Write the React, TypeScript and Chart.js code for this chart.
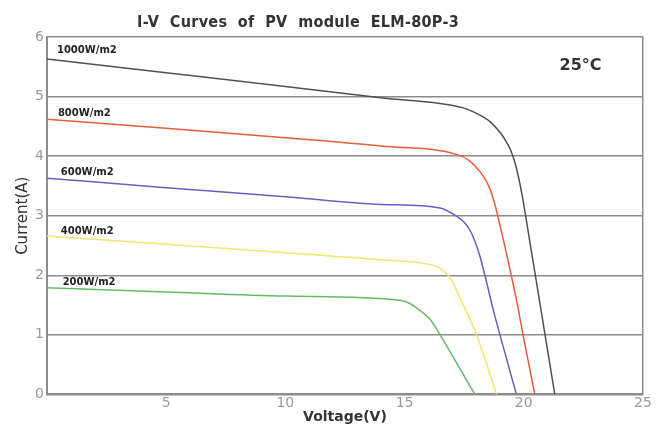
import React, { useEffect, useRef } from 'react';
import { Chart, registerables } from 'chart.js';

Chart.register(...registerables);

// Irradiance levels (series names)
const seriesNames = ['1000W/m2', '800W/m2', '600W/m2', '400W/m2', '200W/m2'];
const seriesColors = ['#505050', '#ec5a3c', '#6c5cc4', '#f2e56a', '#66ba66'];

// I-V curves: voltage (V) and current (A)
const v1000 = [0, 5, 10, 14, 17.46, 18.1, 18.58, 19.0, 19.27, 19.45, 19.6, 19.75, 19.95, 20.3, 21.3];
const i1000 = [5.63, 5.4, 5.17, 4.98, 4.81, 4.7, 4.58, 4.4, 4.24, 4.1, 3.93, 3.7, 3.3, 2.45, 0];

const v800 = [0, 5, 10, 14, 17.18, 17.7, 18.16, 18.4, 18.6, 18.78, 18.95, 19.69, 19.97, 20.46];
const i800 = [4.62, 4.47, 4.31, 4.17, 4.03, 3.93, 3.74, 3.6, 3.43, 3.2, 2.93, 1.59, 1.0, 0];

const v600 = [0, 5, 10, 14, 16.49, 17.18, 17.5, 17.74, 17.95, 18.16, 18.4, 18.72, 19.0, 19.69];
const i600 = [3.63, 3.47, 3.32, 3.19, 3.13, 2.99, 2.89, 2.76, 2.57, 2.32, 1.95, 1.42, 1.0, 0];

const v400 = [0, 5, 10, 14, 16.07, 16.45, 16.75, 17.0, 17.3, 18.02, 18.86];
const i400 = [2.66, 2.52, 2.38, 2.26, 2.18, 2.13, 2.03, 1.9, 1.64, 1.0, 0];

const v200 = [0, 5, 10, 14.81, 15.2, 15.51, 15.8, 16.07, 16.49, 17.18, 17.95];
const i200 = [1.79, 1.72, 1.65, 1.58, 1.53, 1.45, 1.36, 1.26, 1.0, 0.53, 0];

const voltages = [v1000, v800, v600, v400, v200];
const currents = [i1000, i800, i600, i400, i200];

// Label anchors (data coordinates) for the irradiance labels
const labelV = [0.42, 0.46, 0.58, 0.58, 0.66];
const labelI = [5.78, 4.72, 3.72, 2.73, 1.88];

const xTicks = [5, 10, 15, 20, 25];
const yTicks = [0, 1, 2, 3, 4, 5, 6];

const titleText = 'I-V  Curves  of  PV  module  ELM-80P-3';
const tempText = '25°C';
const tempV = 21.5;
const tempI = 5.51;

const gridGray = '#8c8c8c';

export default function App() {
  const ref = useRef<HTMLCanvasElement | null>(null);

  useEffect(() => {
    const canvas = ref.current;
    if (!canvas) return;
    document.body.style.margin = '0';

    const textPlugin = {
      id: 'textPlugin',
      afterDatasetsDraw(chart: any) {
        const { ctx, scales } = chart;
        const xs = scales.x;
        const ys = scales.y;
        ctx.save();
        // main title
        ctx.fillStyle = '#333333';
        ctx.font = 'bold 16px "DejaVu Sans Condensed", "DejaVu Sans"';
        ctx.textAlign = 'left';
        ctx.textBaseline = 'middle';
        const w = ctx.measureText(titleText).width;
        const target = 322;
        if ('letterSpacing' in ctx) {
          const extra = (target - w) / titleText.length;
          (ctx as any).letterSpacing = `${extra.toFixed(2)}px`;
        }
        ctx.fillText(titleText, 137, 23);
        if ('letterSpacing' in ctx) (ctx as any).letterSpacing = '0px';
        // irradiance labels
        ctx.font = 'bold 10px "DejaVu Sans"';
        ctx.fillStyle = '#222222';
        seriesNames.forEach((name, i) => {
          ctx.fillText(name, xs.getPixelForValue(labelV[i]), ys.getPixelForValue(labelI[i]));
        });
        // temperature
        ctx.font = 'bold 16px "DejaVu Sans"';
        ctx.fillStyle = '#333333';
        ctx.fillText(tempText, xs.getPixelForValue(tempV), ys.getPixelForValue(tempI));
        ctx.restore();
      },
    };

    const chart = new Chart(canvas, {
      type: 'scatter',
      data: {
        datasets: seriesNames.map((name, i) => ({
          label: name,
          data: voltages[i].map((v, k) => ({ x: v, y: currents[i][k] })),
          showLine: true,
          borderColor: seriesColors[i],
          backgroundColor: seriesColors[i],
          borderWidth: 1.5,
          pointRadius: 0,
          cubicInterpolationMode: 'monotone' as const,
        })),
      },
      options: {
        responsive: false,
        animation: false,
        layout: { padding: { top: 37, left: 14, right: 13, bottom: 11 } },
        plugins: {
          legend: { display: false },
          tooltip: { enabled: false },
          title: { display: false },
        },
        scales: {
          x: {
            type: 'linear',
            min: 0,
            max: 25,
            afterBuildTicks: (s: any) => {
              s.ticks = xTicks.map((v) => ({ value: v }));
            },
            ticks: {
              color: '#9a9a9a',
              font: { family: 'DejaVu Sans', size: 14 },
              padding: 1,
            },
            grid: {
              drawTicks: false,
              color: (c: any) => (c.tick && c.tick.value === 25 ? gridGray : 'rgba(0,0,0,0)'),
              lineWidth: 1.5,
            },
            border: { display: true, color: gridGray, width: 2 },
            title: {
              display: true,
              text: 'Voltage(V)',
              color: '#333333',
              font: { family: 'DejaVu Sans', size: 14, weight: 'bold' },
              padding: { top: -4, bottom: 0 },
            },
          },
          y: {
            type: 'linear',
            min: 0,
            max: 6,
            afterBuildTicks: (s: any) => {
              s.ticks = yTicks.map((v) => ({ value: v }));
            },
            ticks: {
              color: '#9a9a9a',
              font: { family: 'DejaVu Sans', size: 14 },
              padding: 3,
            },
            grid: {
              drawTicks: false,
              color: gridGray,
              lineWidth: 1.5,
            },
            border: { display: true, color: gridGray, width: 2 },
            title: {
              display: true,
              text: 'Current(A)',
              color: '#333333',
              font: { family: 'DejaVu Sans', size: 15 },
              padding: 0,
            },
          },
        },
      },
      plugins: [textPlugin],
    });

    return () => chart.destroy();
  }, []);

  return (
    <div style={{ position: 'absolute', left: 0, top: 0, width: 656, height: 437 }}>
      <canvas ref={ref} width={656} height={437} />
    </div>
  );
}
